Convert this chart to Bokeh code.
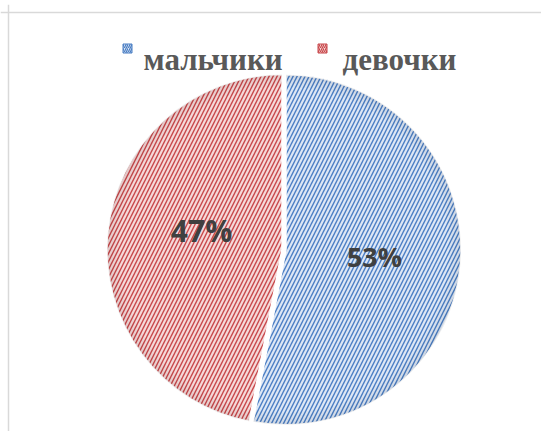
import math
from bokeh.plotting import figure
from bokeh.models import Range1d, Span
from bokeh.core.properties import value
from bokeh.embed import file_html
from bokeh.resources import INLINE

categories = ["мальчики", "девочки"]
values = [53, 47]
labels = ["53%", "47%"]
fill_colors = ["#dde7f5", "#f5d9d9"]
hatch_colors = ["#4a7ec4", "#c8474a"]

W, H = 541, 431
p = figure(width=W, height=H, output_backend="svg", toolbar_location=None,
           x_range=Range1d(-8, 533), y_range=Range1d(8, 435),
           min_border_left=0, min_border_right=0, min_border_bottom=0, min_border_top=4)
p.axis.visible = False
p.grid.visible = False
p.outline_line_color = None
p.background_fill_color = "white"
p.border_fill_color = "white"

# chart area border (top and left)
p.add_layout(Span(location=427, dimension="width", line_color="#d9d9d9", line_width=1.5))
p.add_layout(Span(location=0, dimension="height", line_color="#d9d9d9", line_width=1.5))

cx, cy, r = 274, 190, 175
explode = [3.5, 0.5]
total = sum(values)
start = math.pi / 2
label_pos = [(366, 183), (193, 209)]
label_sizes = ["27px", "30px"]
for i, v in enumerate(values):
    sweep = 2 * math.pi * v / total
    end = start - sweep
    mid = (start + end) / 2
    ox = cx + explode[i] * math.cos(mid)
    oy = cy + explode[i] * math.sin(mid)
    p.wedge(x=[ox], y=[oy], radius=r, start_angle=[start], end_angle=[end], direction="clock",
            fill_color=fill_colors[i], line_color="white", line_width=1.5,
            hatch_pattern="/", hatch_color=hatch_colors[i], hatch_scale=8, hatch_weight=1.4)
    # soft edge shading
    for k, a in enumerate([0.07, 0.05, 0.035, 0.02]):
        p.annular_wedge(x=[ox], y=[oy], inner_radius=r - 3 * (k + 1), outer_radius=r - 3 * k,
                        start_angle=[start], end_angle=[end], direction="clock",
                        fill_color="black", fill_alpha=a, line_color=None)
    lx, ly = label_pos[i]
    p.text(x=[lx], y=[ly], text=[labels[i]], text_font=value("Open Sans"), text_font_style="bold",
           text_font_size=label_sizes[i], text_color="#404040", text_align="center", text_baseline="middle")
    start = end

# legend
leg_sq = [(119, 391), (314, 391)]
leg_tx = [(135, 380), (334, 380)]
for i, c in enumerate(categories):
    sx, sy = leg_sq[i]
    p.rect(x=[sx], y=[sy], width=9, height=9, fill_color=fill_colors[i], line_color=hatch_colors[i],
           line_width=1, hatch_pattern="/", hatch_color=hatch_colors[i], hatch_scale=4, hatch_weight=1.2)
    tx, ty = leg_tx[i]
    p.text(x=[tx], y=[ty], text=[c], text_font=value("Liberation Serif"), text_font_style="bold",
           text_font_size="31px", text_color="#595959", text_align="left", text_baseline="alphabetic")

open("out.html", "w").write(file_html(p, INLINE))
